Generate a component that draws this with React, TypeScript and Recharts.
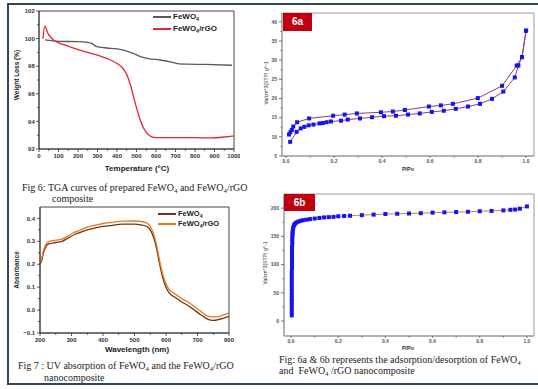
import React from "react";
import { LineChart, Line, XAxis, YAxis, ReferenceArea } from "recharts";

// Fig 6 – TGA
const tgaFeTemp = [30, 100, 200, 250, 270, 290, 310, 350, 400, 450, 480, 520, 560, 620, 680, 720, 760, 850, 990];
const tgaFeWeight = [99.9, 99.8, 99.78, 99.72, 99.65, 99.45, 99.38, 99.32, 99.25, 99.1, 98.95, 98.7, 98.55, 98.45, 98.3, 98.17, 98.15, 98.13, 98.07];
const tgaRgoTemp = [20, 30, 45, 60, 80, 100, 150, 200, 250, 300, 350, 400, 430, 450, 470, 490, 510, 530, 550, 575, 600, 700, 800, 870, 950, 1000];
const tgaRgoWeight = [100.0, 100.9, 100.4, 100.1, 99.85, 99.7, 99.45, 99.2, 99.0, 98.8, 98.55, 98.2, 97.85, 97.4, 96.6, 95.5, 94.5, 93.7, 93.2, 92.9, 92.82, 92.82, 92.82, 92.8, 92.87, 92.95];
const tgaXTicks = [0, 50, 100, 150, 200, 250, 300, 350, 400, 450, 500, 550, 600, 650, 700, 750, 800, 850, 900, 950, 1000];
const tgaXMajor = [0, 100, 200, 300, 400, 500, 600, 700, 800, 900, 1000];
const tgaYTicks = [92, 93, 94, 95, 96, 97, 98, 99, 100, 101, 102];
const tgaYMajor = [92, 94, 96, 98, 100, 102];

// Fig 7 – UV absorption
const uvWave = [200, 205, 210, 215, 220, 230, 250, 270, 290, 310, 330, 350, 380, 400, 430, 460, 500, 520, 540, 550, 560, 570, 580, 590, 600, 610, 630, 650, 670, 690, 710, 730, 750, 770, 790, 800];
const uvFe = [0.2, 0.215, 0.245, 0.265, 0.28, 0.29, 0.295, 0.3, 0.315, 0.33, 0.34, 0.35, 0.36, 0.365, 0.37, 0.375, 0.375, 0.372, 0.365, 0.35, 0.32, 0.27, 0.2, 0.14, 0.1, 0.075, 0.055, 0.035, 0.02, 0.0, -0.02, -0.038, -0.045, -0.04, -0.032, -0.028];
const uvRgo = [0.205, 0.225, 0.255, 0.275, 0.29, 0.3, 0.305, 0.31, 0.325, 0.34, 0.35, 0.362, 0.372, 0.378, 0.383, 0.388, 0.389, 0.387, 0.38, 0.365, 0.335, 0.285, 0.215, 0.155, 0.115, 0.09, 0.07, 0.05, 0.035, 0.015, -0.005, -0.025, -0.03, -0.027, -0.018, -0.012];
const uvXTicks = [200, 250, 300, 350, 400, 450, 500, 550, 600, 650, 700, 750, 800];
const uvXMajor = [200, 300, 400, 500, 600, 700, 800];
const uvYTicks = [-0.1, -0.05, 0, 0.05, 0.1, 0.15, 0.2, 0.25, 0.3, 0.35, 0.4];
const uvYMajor = [-0.1, 0, 0.1, 0.2, 0.3, 0.4];

// Fig 6a – isotherm FeWO4
const adsAX = [0.017, 0.044, 0.061, 0.076, 0.094, 0.114, 0.139, 0.153, 0.169, 0.187, 0.229, 0.257, 0.308, 0.358, 0.408, 0.458, 0.508, 0.557, 0.607, 0.657, 0.707, 0.758, 0.808, 0.858, 0.905, 0.953, 0.968, 0.983, 1.0];
const adsAY = [8.7, 11.3, 12.2, 12.6, 13.0, 13.2, 13.5, 13.6, 13.8, 14.0, 14.2, 14.5, 14.8, 15.1, 15.4, 15.5, 15.8, 16.1, 16.5, 16.8, 17.3, 17.9, 18.6, 19.9, 21.8, 25.5, 28.6, 30.8, 37.7];
const desAX = [1.0, 0.983, 0.961, 0.9, 0.799, 0.695, 0.645, 0.595, 0.495, 0.445, 0.395, 0.295, 0.244, 0.196, 0.096, 0.046, 0.03, 0.024, 0.018, 0.012];
const desAY = [37.7, 30.8, 28.6, 23.3, 20.1, 18.6, 18.2, 17.9, 17.0, 16.6, 16.4, 16.1, 15.8, 15.5, 14.8, 13.8, 12.7, 11.8, 11.2, 10.6];
const isoXTicks = [0, 0.1, 0.2, 0.3, 0.4, 0.5, 0.6, 0.7, 0.8, 0.9, 1.0];
const isoXMajor = [0, 0.2, 0.4, 0.6, 0.8, 1.0];
const isoAYTicks = [5, 7.5, 10, 12.5, 15, 17.5, 20, 22.5, 25, 27.5, 30, 32.5, 35, 37.5, 40];
const isoAYMajor = [5, 10, 15, 20, 25, 30, 35, 40];

// Fig 6b – isotherm FeWO4/rGO
const isoBX = [0.003, 0.003, 0.003, 0.003, 0.003, 0.003, 0.003, 0.003, 0.003, 0.003, 0.003, 0.003, 0.003, 0.003, 0.004, 0.004, 0.004, 0.004, 0.004, 0.004, 0.004, 0.005, 0.005, 0.005, 0.006, 0.006, 0.007, 0.008, 0.01, 0.013, 0.017, 0.022, 0.03, 0.04, 0.05, 0.065, 0.08, 0.1, 0.12, 0.14, 0.16, 0.18, 0.2, 0.225, 0.25, 0.3, 0.35, 0.4, 0.45, 0.5, 0.55, 0.6, 0.65, 0.7, 0.75, 0.8, 0.85, 0.9, 0.93, 0.95, 0.97, 1.0];
const isoBY = [10, 16, 22, 28, 34, 40, 46, 52, 58, 64, 70, 76, 82, 88, 94, 100, 106, 112, 118, 124, 130, 136, 141, 146, 151, 155, 159, 163, 167, 170, 172.5, 174.5, 176, 177.5, 178.5, 179.5, 180.5, 181.5, 182.5, 183.5, 184, 184.5, 185.5, 186, 186.5, 187.5, 188.5, 189.5, 190, 190.5, 191, 192, 192.5, 193, 193.5, 194.5, 195, 196, 197, 197.5, 199, 203];
const isoBYTicks = [0, 25, 50, 75, 100, 125, 150, 175, 200];
const isoBYMajor = [0, 50, 100, 150, 200];

const zip = (xs: number[], ys: number[]) => xs.map((x, i) => ({ x, y: ys[i] }));

const SANS = "'Liberation Sans', Arial, sans-serif";
const SERIF = "'Liberation Serif', 'Times New Roman', serif";

type TickOpts = { majors: number[]; fmt: (v: number) => string; fs: number; len: number; minor: number; color: string; weight: number; gap: number };

const isMajor = (o: TickOpts, v: number) => o.majors.some((m) => Math.abs(m - v) < 1e-6);

function xTick(o: TickOpts) {
  return (p: any) => {
    const v = p.payload.value;
    const major = isMajor(o, v);
    return (
      <g>
        <line x1={p.x} x2={p.x} y1={p.y} y2={p.y + (major ? o.len : o.minor)} stroke={o.color} strokeWidth={0.8} />
        {major && (
          <text x={p.x} y={p.y + o.len + o.gap + o.fs * 0.75} textAnchor="middle" fontSize={o.fs} fontWeight={o.weight} fill={o.color} fontFamily={SANS}>
            {o.fmt(v)}
          </text>
        )}
      </g>
    );
  };
}

function yTick(o: TickOpts) {
  return (p: any) => {
    const v = p.payload.value;
    const major = isMajor(o, v);
    return (
      <g>
        <line x1={p.x} x2={p.x - (major ? o.len : o.minor)} y1={p.y} y2={p.y} stroke={o.color} strokeWidth={0.8} />
        {major && (
          <text x={p.x - o.len - o.gap} y={p.y + o.fs * 0.35} textAnchor="end" fontSize={o.fs} fontWeight={o.weight} fill={o.color} fontFamily={SANS}>
            {o.fmt(v)}
          </text>
        )}
      </g>
    );
  };
}

const square = (color: string, s: number) => (p: any) => (
  <rect key={`sq-${p.index}`} x={p.cx - s / 2} y={p.cy - s / 2} width={s} height={s} fill={color} />
);

const Sub = ({ children }: { children: React.ReactNode }) => (
  <span style={{ fontSize: "0.68em", verticalAlign: "-0.3em", lineHeight: 0 }}>{children}</span>
);

function Txt(props: { x: number; y: number; fs: number; bold?: boolean; serif?: boolean; rotate?: boolean; center?: boolean; color?: string; children: React.ReactNode }) {
  const { x, y, fs, bold, serif, rotate, center, color, children } = props;
  let transform = "translate(0,-50%)";
  if (center) transform = "translate(-50%,-50%)";
  if (rotate) transform = "translate(-50%,-50%) rotate(-90deg)";
  return (
    <div
      style={{
        position: "absolute",
        left: x,
        top: y,
        transform,
        fontSize: fs,
        fontWeight: bold ? 700 : 400,
        fontFamily: serif ? SERIF : SANS,
        color: color || "#222",
        whiteSpace: "nowrap",
        lineHeight: 1,
      }}
    >
      {children}
    </div>
  );
}

function LegendRow({ x, y, color, fs, children }: { x: number; y: number; color: string; fs: number; children: React.ReactNode }) {
  return (
    <>
      <div style={{ position: "absolute", left: x, top: y - 0.6, width: 18, height: 1.3, background: color }} />
      <Txt x={x + 20} y={y} fs={fs} bold>
        {children}
      </Txt>
    </>
  );
}

export default function App() {
  const tgaFe = zip(tgaFeTemp, tgaFeWeight);
  const tgaRgo = zip(tgaRgoTemp, tgaRgoWeight);
  const uvData = uvWave.map((w, i) => ({ x: w, fe: uvFe[i], rgo: uvRgo[i] }));
  const adsA = zip(adsAX, adsAY);
  const desA = zip(desAX, desAY);
  const isoB = zip(isoBX, isoBY);

  const bigTick = { fs: 6, len: 3, minor: 2, color: "#333", weight: 700, gap: 1.5 };
  const smallTick = { fs: 5, len: 3, minor: 1.5, color: "#555", weight: 700, gap: 1.5 };

  return (
    <div style={{ position: "absolute", left: 0, top: 0, width: 538, height: 389, background: "#fff", overflow: "hidden" }}>
      {/* page frame */}
      <div style={{ position: "absolute", left: 7, top: 3, width: 540, height: 378, border: "2px solid #2b4763", borderRight: "none" }} />

      {/* TGA */}
      <div style={{ position: "absolute", left: 0, top: 0 }}>
        <LineChart width={240} height={175} margin={{ top: 11, right: 6, left: 0, bottom: 0 }}>
          <XAxis
            dataKey="x"
            type="number"
            domain={[0, 1000]}
            ticks={tgaXTicks}
            interval={0}
            height={26}
            tickSize={0}
            tickMargin={0}
            tickLine={false}
            axisLine={{ stroke: "#444" }}
            tick={xTick({ ...bigTick, majors: tgaXMajor, fmt: (v) => String(v) })}
          />
          <YAxis
            dataKey="y"
            type="number"
            domain={[92, 102]}
            ticks={tgaYTicks}
            interval={0}
            width={39}
            tickSize={0}
            tickMargin={0}
            tickLine={false}
            axisLine={{ stroke: "#444" }}
            tick={yTick({ ...bigTick, gap: 1.2, majors: tgaYMajor, fmt: (v) => String(v) })}
          />
          <ReferenceArea x1={0} x2={1000} y1={92} y2={102} fill="none" stroke="#444" strokeWidth={1} />
          <Line data={tgaFe} dataKey="y" type="monotone" stroke="#5a5a5a" strokeWidth={1.3} dot={false} activeDot={false} isAnimationActive={false} />
          <Line data={tgaRgo} dataKey="y" type="monotone" stroke="#e8262b" strokeWidth={1.3} dot={false} activeDot={false} isAnimationActive={false} />
        </LineChart>
      </div>
      <LegendRow x={153} y={17} color="#5a5a5a" fs={8}>
        FeWO<Sub>4</Sub>
      </LegendRow>
      <LegendRow x={153} y={29} color="#e8262b" fs={8}>
        FeWO<Sub>4</Sub>/rGO
      </LegendRow>
      <Txt x={17} y={75} fs={6.5} bold rotate>
        Weight Loss (%)
      </Txt>
      <Txt x={137} y={169} fs={8} bold center>
        Temperature (°C)
      </Txt>
      <Txt x={22} y={188} fs={10} serif>
        Fig 6: TGA curves of prepared FeWO<Sub>4</Sub> and FeWO<Sub>4</Sub>/rGO
      </Txt>
      <Txt x={52} y={199} fs={10} serif>
        composite
      </Txt>

      {/* UV */}
      <div style={{ position: "absolute", left: 0, top: 190 }}>
        <LineChart width={235} height={163} data={uvData} margin={{ top: 17, right: 6, left: 0, bottom: 0 }}>
          <XAxis
            dataKey="x"
            type="number"
            domain={[200, 800]}
            ticks={uvXTicks}
            interval={0}
            height={20}
            tickSize={0}
            tickMargin={0}
            tickLine={false}
            axisLine={{ stroke: "#444" }}
            tick={xTick({ ...bigTick, majors: uvXMajor, fmt: (v) => String(v) })}
          />
          <YAxis
            type="number"
            domain={[-0.1, 0.45]}
            ticks={uvYTicks}
            interval={0}
            width={40}
            tickSize={0}
            tickMargin={0}
            tickLine={false}
            axisLine={{ stroke: "#444" }}
            tick={yTick({ ...bigTick, gap: 2, majors: uvYMajor, fmt: (v) => (v < 0 ? "−" + Math.abs(v).toFixed(1) : v.toFixed(1)) })}
          />
          <ReferenceArea x1={200} x2={800} y1={-0.1} y2={0.45} fill="none" stroke="#444" strokeWidth={1} />
          <Line dataKey="fe" type="monotone" stroke="#6e3510" strokeWidth={1.3} dot={false} activeDot={false} isAnimationActive={false} />
          <Line dataKey="rgo" type="monotone" stroke="#e8781e" strokeWidth={1.3} dot={false} activeDot={false} isAnimationActive={false} />
        </LineChart>
      </div>
      <LegendRow x={158} y={214} color="#6e3510" fs={7.5}>
        FeWO<Sub>4</Sub>
      </LegendRow>
      <LegendRow x={158} y={224} color="#e8781e" fs={7.5}>
        FeWO<Sub>4</Sub>/rGO
      </LegendRow>
      <Txt x={17} y={270} fs={6.5} bold rotate>
        Absorbance
      </Txt>
      <Txt x={137} y={350} fs={8} bold center>
        Wavelength (nm)
      </Txt>
      <Txt x={18} y={366} fs={10} serif>
        Fig 7 : UV absorption of FeWO<Sub>4</Sub> and the FeWO<Sub>4</Sub>/rGO
      </Txt>
      <Txt x={44} y={378} fs={10} serif>
        nanocomposite
      </Txt>

      {/* 6a */}
      <div style={{ position: "absolute", left: 270, top: 0 }}>
        <LineChart width={268} height={166} margin={{ top: 13, right: 4, left: 0, bottom: 0 }}>
          <XAxis
            dataKey="x"
            type="number"
            domain={[-0.017, 1.033]}
            ticks={isoXTicks}
            interval={0}
            height={10}
            tickSize={0}
            tickMargin={0}
            tickLine={false}
            axisLine={{ stroke: "#999" }}
            tick={xTick({ ...smallTick, len: 2, majors: isoXMajor, fmt: (v) => v.toFixed(1) })}
          />
          <YAxis
            dataKey="y"
            type="number"
            domain={[5, 42.3]}
            ticks={isoAYTicks}
            interval={0}
            width={12}
            tickSize={0}
            tickMargin={0}
            tickLine={false}
            axisLine={{ stroke: "#999" }}
            tick={yTick({ ...smallTick, gap: 2, majors: isoAYMajor, fmt: (v) => String(v) })}
          />
          <ReferenceArea x1={-0.017} x2={1.033} y1={5} y2={42.3} fill="none" stroke="#999" strokeWidth={1} />
          <Line data={adsA} dataKey="y" type="linear" stroke="#8e3b8e" strokeWidth={1} dot={square("#1414f0", 4)} activeDot={false} isAnimationActive={false} />
          <Line data={desA} dataKey="y" type="linear" stroke="#8e3b8e" strokeWidth={1} dot={square("#1414f0", 4)} activeDot={false} isAnimationActive={false} />
        </LineChart>
      </div>
      <div style={{ position: "absolute", left: 283, top: 13, width: 29, height: 18, background: "#c00010" }} />
      <Txt x={297.5} y={22} fs={10} bold center color="#fff">
        6a
      </Txt>
      <Txt x={266} y={83} fs={5} rotate color="#333">
        Va/cm^3(STP) g^-1
      </Txt>
      <Txt x={408} y={170} fs={5.5} bold center color="#333">
        P/Po
      </Txt>

      {/* 6b */}
      <div style={{ position: "absolute", left: 270, top: 190 }}>
        <LineChart width={268} height={156} margin={{ top: 4, right: 4, left: 0, bottom: 0 }}>
          <XAxis
            dataKey="x"
            type="number"
            domain={[-0.03, 1.03]}
            ticks={isoXTicks}
            interval={0}
            height={10}
            tickSize={0}
            tickMargin={0}
            tickLine={false}
            axisLine={{ stroke: "#999" }}
            tick={xTick({ ...smallTick, len: 2, majors: isoXMajor, fmt: (v) => v.toFixed(1) })}
          />
          <YAxis
            dataKey="y"
            type="number"
            domain={[-26.5, 225]}
            ticks={isoBYTicks}
            interval={0}
            width={14}
            tickSize={0}
            tickMargin={0}
            tickLine={false}
            axisLine={{ stroke: "#999" }}
            tick={yTick({ ...smallTick, gap: 2, majors: isoBYMajor, fmt: (v) => String(v) })}
          />
          <ReferenceArea x1={-0.03} x2={1.03} y1={-26.5} y2={225} fill="none" stroke="#999" strokeWidth={1} />
          <Line data={isoB} dataKey="y" type="linear" stroke="#d08040" strokeWidth={1} dot={square("#1414f0", 4)} activeDot={false} isAnimationActive={false} />
        </LineChart>
      </div>
      <div style={{ position: "absolute", left: 284, top: 194, width: 31, height: 17, background: "#c00010" }} />
      <Txt x={299.5} y={202.5} fs={10} bold center color="#fff">
        6b
      </Txt>
      <Txt x={265} y={263} fs={5} rotate color="#333">
        Va/cm^3(STP) g^-1
      </Txt>
      <Txt x={408} y={349} fs={5.5} bold center color="#333">
        P/Po
      </Txt>
      <Txt x={279} y={360} fs={10} serif>
        Fig: 6a &amp; 6b represents the adsorption/desorption of FeWO<Sub>4</Sub>
      </Txt>
      <Txt x={279} y={371} fs={10} serif>
        and&nbsp; FeWO<Sub>4</Sub> /rGO nanocomposite
      </Txt>
    </div>
  );
}
